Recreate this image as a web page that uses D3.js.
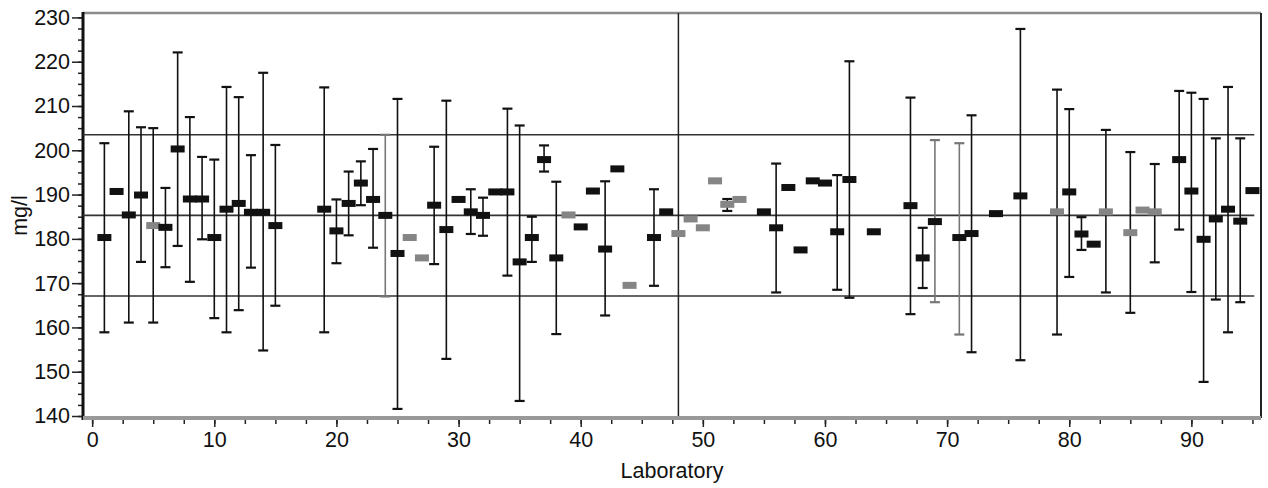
<!DOCTYPE html>
<html>
<head>
<meta charset="utf-8">
<script src="https://cdn.jsdelivr.net/npm/d3@7"></script>
<style>
  body { margin: 0; background: #fff; }
  text { font-family: "Liberation Sans", Arial, sans-serif; }
</style>
</head>
<body>
<svg id="chart" width="1268" height="488"></svg>
<script>
// laboratory numbers, reported means and uncertainty limits (null = no bar)
const labs  = [1, 2, 3, 4, 5, 6, 7, 8, 9, 10, 11, 12, 13, 14, 15, 19, 20, 21, 22, 23,
               24, 25, 26, 27, 28, 29, 30, 31, 32, 33, 34, 35, 36, 37, 38, 39, 40, 41, 42, 43,
               44, 46, 47, 48, 49, 50, 51, 52, 53, 55, 56, 57, 58, 59, 60, 61, 62, 64, 67, 68,
               69, 71, 72, 74, 76, 79, 80, 81, 82, 83, 85, 86, 87, 89, 90, 91, 92, 93, 94, 95]
const means = [180.3, 190.7, 185.4, 189.9, 183.0, 182.6, 200.3, 189.0, 189.0, 180.3, 186.7, 188.0, 186.0, 186.0, 183.0, 186.7, 181.8, 188.0, 192.6, 188.9,
               185.3, 176.7, 180.3, 175.7, 187.6, 182.1, 188.9, 186.1, 185.3, 190.6, 190.6, 174.8, 180.3, 197.9, 175.7, 185.4, 182.7, 190.8, 177.7, 195.8,
               169.5, 180.3, 186.1, 181.2, 184.5, 182.5, 193.1, 187.8, 188.9, 186.1, 182.5, 191.6, 177.5, 193.1, 192.6, 181.6, 193.4, 181.6, 187.5, 175.7,
               183.9, 180.3, 181.2, 185.7, 189.7, 186.1, 190.6, 181.1, 178.8, 186.1, 181.4, 186.5, 186.1, 197.9, 190.8, 179.9, 184.5, 186.7, 184.0, 190.9]
const lows  = [158.9, null, 161.1, 174.8, 161.1, 173.6, 178.4, 170.3, 179.9, 162.1, 158.9, 163.9, 173.5, 154.8, 164.9, 158.9, 174.5, 180.8, 187.6, 178.0,
               167.0, 141.6, null, null, 174.3, 152.9, null, 181.1, 180.7, null, 171.7, 143.4, 174.8, 195.2, 158.5, null, null, null, 162.7, null,
               null, 169.4, null, null, null, null, null, 186.3, null, null, 167.9, null, null, null, null, 168.5, 166.7, null, 163.0, 168.9,
               165.7, 158.4, 154.4, null, 152.6, 158.4, 171.4, 177.5, null, 167.9, 163.3, null, 174.7, 182.1, 168.0, 147.7, 166.3, 158.9, 165.7, null]
const highs = [201.6, null, 208.8, 205.2, 205.0, 191.5, 222.1, 207.5, 198.5, 197.9, 214.3, 212.0, 198.9, 217.5, 201.2, 214.2, 188.9, 195.2, 197.5, 200.3,
               203.5, 211.6, null, null, 200.8, 211.2, null, 191.2, 189.3, null, 209.4, 205.6, 185.0, 201.1, 192.9, null, null, null, 193.0, null,
               null, 191.2, null, null, null, null, null, 189.0, null, null, 197.0, null, null, null, null, 194.4, 220.1, null, 211.9, 182.5,
               202.3, 201.6, 207.9, null, 227.4, 213.7, 209.3, 184.9, null, 204.6, 199.6, null, 196.9, 213.4, 213.0, 211.6, 202.7, 214.3, 202.7, null]
// labs drawn in grey in the original
const greyMeans = [5, 26, 27, 39, 44, 48, 49, 50, 51, 52, 53, 79, 83, 85, 86, 87]
const greyBars  = [24, 69, 71]
// assigned value and acceptance limits
const limits = [203.5, 185.3, 167.1]
const splitLab = 48

const svg = d3.select('#chart')
const mLeft = 83, mRight = 1261, mTop = 13, mBottom = 418
const fontSize = 21.5

const x = d3.scaleLinear().domain([-0.75, 95.7]).range([mLeft, mRight])
const y = d3.scaleLinear().domain([139.55, 231]).range([mBottom, mTop])

// y axis: major ticks with labels, minor ticks every 2.5
svg.append('g')
    .attr('transform', `translate(${mLeft},0)`)
    .call(d3.axisLeft(y).tickValues(d3.range(140, 230.1, 2.5)).tickSize(5).tickFormat(''))
    .call(g => g.select('.domain').remove())
    .call(g => g.selectAll('line').attr('stroke', '#222').attr('stroke-width', 1.5))
svg.append('g')
    .attr('transform', `translate(${mLeft},0)`)
    .call(d3.axisLeft(y).tickValues(d3.range(140, 231, 10)).tickSize(11).tickPadding(2))
    .call(g => g.select('.domain').remove())
    .call(g => g.selectAll('line').attr('stroke', '#222').attr('stroke-width', 1.5))
    .call(g => g.selectAll('text').attr('font-size', fontSize).attr('fill', '#111'))

// x axis
svg.append('g')
    .attr('transform', `translate(0,${mBottom + 2})`)
    .call(d3.axisBottom(x).tickValues(d3.range(0, 96, 2.5)).tickSize(4).tickFormat(''))
    .call(g => g.select('.domain').remove())
    .call(g => g.selectAll('line').attr('stroke', '#222').attr('stroke-width', 1.5))
svg.append('g')
    .attr('transform', `translate(0,${mBottom + 2})`)
    .call(d3.axisBottom(x).tickValues(d3.range(0, 91, 10)).tickSize(7).tickPadding(5))
    .call(g => g.select('.domain').remove())
    .call(g => g.selectAll('line').attr('stroke', '#222').attr('stroke-width', 1.5))
    .call(g => g.selectAll('text').attr('font-size', fontSize).attr('fill', '#111'))

// frame
svg.append('line').attr('x1', mLeft).attr('x2', mRight).attr('y1', mTop).attr('y2', mTop)
    .attr('stroke', '#8c8c8c').attr('stroke-width', 2.5)
svg.append('line').attr('x1', mRight).attr('x2', mRight).attr('y1', mTop).attr('y2', mBottom)
    .attr('stroke', '#222').attr('stroke-width', 2)
svg.append('line').attr('x1', mLeft).attr('x2', mLeft).attr('y1', mTop - 1).attr('y2', mBottom + 2)
    .attr('stroke', '#111').attr('stroke-width', 3)

// limit lines and the split line
svg.selectAll('.limit')
    .data(limits)
    .enter()
    .append('line')
    .attr('class', 'limit')
    .attr('x1', mLeft).attr('x2', x(95.15))
    .attr('y1', d => y(d)).attr('y2', d => y(d))
    .attr('stroke', '#333').attr('stroke-width', 1.6)
svg.append('line')
    .attr('x1', x(splitLab)).attr('x2', x(splitLab))
    .attr('y1', mTop).attr('y2', mBottom)
    .attr('stroke', '#222').attr('stroke-width', 1.5)

const points = labs.map((lab, i) => ({
    lab: lab, mean: means[i], lo: lows[i], hi: highs[i],
    greyMean: greyMeans.includes(lab), greyBar: greyBars.includes(lab)
}))

// error bars
const bars = svg.selectAll('.err')
    .data(points.filter(d => d.lo != null))
    .enter()
    .append('g')
    .attr('class', 'err')
    .attr('stroke', d => d.greyBar ? '#777' : '#111')

bars.append('line')
    .attr('x1', d => x(d.lab)).attr('x2', d => x(d.lab))
    .attr('y1', d => y(d.hi)).attr('y2', d => y(d.lo))
    .attr('stroke-width', 1.6)
bars.append('line')
    .attr('x1', d => x(d.lab) - 5).attr('x2', d => x(d.lab) + 5)
    .attr('y1', d => y(d.hi)).attr('y2', d => y(d.hi))
    .attr('stroke-width', 2.2)
bars.append('line')
    .attr('x1', d => x(d.lab) - 5).attr('x2', d => x(d.lab) + 5)
    .attr('y1', d => y(d.lo)).attr('y2', d => y(d.lo))
    .attr('stroke-width', 2.2)

// means
svg.selectAll('.mean')
    .data(points)
    .enter()
    .append('rect')
    .attr('class', 'mean')
    .attr('x', d => x(d.lab) - 7)
    .attr('y', d => y(d.mean) - 3.5)
    .attr('width', 14)
    .attr('height', 7)
    .attr('fill', d => d.greyMean ? '#858585' : '#111')

// bottom axis line drawn last (thick grey)
svg.append('line').attr('x1', mLeft).attr('x2', mRight).attr('y1', mBottom).attr('y2', mBottom)
    .attr('stroke', '#999').attr('stroke-width', 4)

// axis titles
svg.append('text')
    .attr('transform', `translate(27,${(mTop + mBottom) / 2}) rotate(-90)`)
    .attr('text-anchor', 'middle')
    .attr('font-size', fontSize)
    .attr('fill', '#111')
    .text('mg/l')
svg.append('text')
    .attr('x', (mLeft + mRight) / 2)
    .attr('y', 478)
    .attr('text-anchor', 'middle')
    .attr('font-size', fontSize)
    .attr('fill', '#111')
    .text('Laboratory')
</script>
</body>
</html>
